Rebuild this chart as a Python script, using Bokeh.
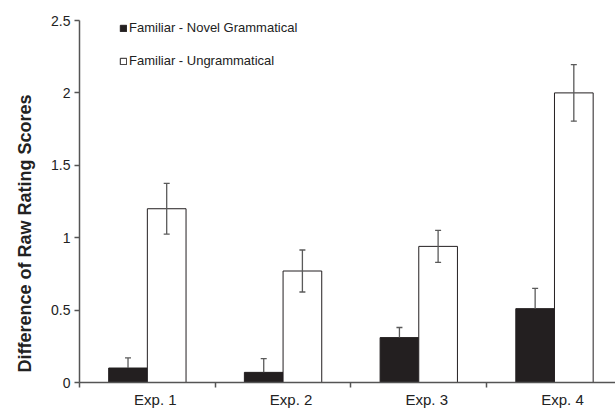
from bokeh.plotting import figure
from bokeh.models import (ColumnDataSource, Range1d, FixedTicker, Whisker, Legend, LegendItem,
                          TeeHead, Title)
from bokeh.embed import file_html
from bokeh.resources import INLINE

experiments = ["Exp. 1", "Exp. 2", "Exp. 3", "Exp. 4"]
novel_grammatical = [0.10, 0.07, 0.31, 0.51]
novel_err = [0.07, 0.095, 0.07, 0.14]
ungrammatical = [1.20, 0.77, 0.94, 2.00]
ungram_err = [0.175, 0.145, 0.11, 0.195]
y_ticks = [0, 0.5, 1, 1.5, 2, 2.5]
y_tick_labels = ["0", "0.5", "1", "1.5", "2", "2.5"]
y_title = "Difference of Raw Rating Scores"

FONT = "Liberation Sans"
centers = [i + 0.5 for i in range(len(experiments))]
label_pos = [c + 0.059 for c in centers]
bw = 0.285

p = figure(frame_width=537, frame_height=362, output_backend="svg", toolbar_location=None,
           x_range=Range1d(0, 3.957), y_range=Range1d(0, 2.5),
           min_border_left=78, min_border_right=0, min_border_top=20, min_border_bottom=0)
p.outline_line_color = None
p.xgrid.grid_line_color = None
p.ygrid.grid_line_color = None
p.background_fill_color = "white"
p.border_fill_color = "white"

src_a = ColumnDataSource(dict(x=[c - bw / 2 for c in centers], top=novel_grammatical,
                              upper=[v + e for v, e in zip(novel_grammatical, novel_err)],
                              lower=novel_grammatical))
src_b = ColumnDataSource(dict(x=[c + bw / 2 for c in centers], top=ungrammatical,
                              upper=[v + e for v, e in zip(ungrammatical, ungram_err)],
                              lower=[v - e for v, e in zip(ungrammatical, ungram_err)]))

ra = p.vbar(x="x", top="top", width=bw, source=src_a, fill_color="#231f20", line_color="#231f20", line_width=1)
rb = p.vbar(x="x", top="top", width=bw, source=src_b, fill_color="white", line_color="#231f20", line_width=1)

ECOL = "#5a5a5a"
w_a = Whisker(base="x", upper="upper", lower="lower", source=src_a, level="overlay",
              line_color=ECOL, line_width=1.3,
              upper_head=TeeHead(size=6, line_color=ECOL, line_width=1.3),
              lower_head=None)
w_b = Whisker(base="x", upper="upper", lower="lower", source=src_b, level="overlay",
              line_color=ECOL, line_width=1.3,
              upper_head=TeeHead(size=6, line_color=ECOL, line_width=1.3),
              lower_head=TeeHead(size=6, line_color=ECOL, line_width=1.3))
p.add_layout(w_a)
p.add_layout(w_b)

# x axis
p.xaxis.ticker = FixedTicker(ticks=label_pos, minor_ticks=[0, 1, 2, 3])
p.xaxis.major_label_overrides = {c: e for c, e in zip(label_pos, experiments)}
p.xaxis.major_tick_out = 0
p.xaxis.major_tick_in = 0
p.xaxis.minor_tick_out = 5
p.xaxis.minor_tick_in = 0
p.xaxis.major_label_standoff = 3
p.xaxis.axis_line_color = "#555555"
p.xaxis.axis_line_width = 1.5
p.xaxis.minor_tick_line_color = "#555555"
p.xaxis.minor_tick_line_width = 1.5
p.xaxis.major_label_text_font = FONT
p.xaxis.major_label_text_font_size = "15px"
p.xaxis.major_label_text_color = "#222222"

# y axis
p.yaxis.ticker = FixedTicker(ticks=y_ticks, minor_ticks=[])
p.yaxis.major_label_overrides = {t: l for t, l in zip(y_ticks, y_tick_labels)}
p.yaxis.major_tick_out = 5
p.yaxis.major_tick_in = 0
p.yaxis.major_label_standoff = 4
p.yaxis.axis_line_color = "#555555"
p.yaxis.axis_line_width = 1.5
p.yaxis.major_tick_line_color = "#555555"
p.yaxis.major_tick_line_width = 1.5
p.yaxis.major_label_text_font = FONT
p.yaxis.major_label_text_font_size = "14px"
p.yaxis.major_label_text_color = "#222222"

ytitle = Title(text=y_title, align="left", offset=10, standoff=26, vertical_align="middle",
               text_font=FONT, text_font_style="bold", text_font_size="18px",
               text_color="#222222")
p.add_layout(ytitle, "left")

legend = Legend(items=[LegendItem(label="Familiar - Novel Grammatical", renderers=[ra]),
                       LegendItem(label="Familiar - Ungrammatical", renderers=[rb])],
                location=(40, 314))
legend.glyph_width = 8
legend.glyph_height = 8
legend.label_standoff = 2
legend.label_height = 14
legend.spacing = 18
legend.padding = 0
legend.margin = 0
legend.border_line_color = None
legend.background_fill_alpha = 0
legend.label_text_font = FONT
legend.label_text_font_size = "13px"
legend.label_text_color = "#222222"
p.add_layout(legend)

open("out.html", "w").write(file_html(p, INLINE))
